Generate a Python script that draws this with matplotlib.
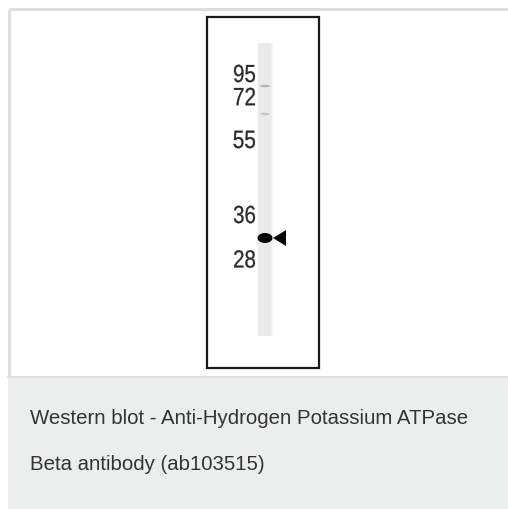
import numpy as np
import matplotlib.pyplot as plt
from matplotlib.patches import Rectangle, Ellipse, Polygon, PathPatch
from matplotlib.textpath import TextPath
from matplotlib.font_manager import FontProperties
from matplotlib.transforms import Affine2D

plt.rcParams['font.family'] = ['Liberation Sans', 'DejaVu Sans']

# molecular weight ladder (kDa) and where each sits on the blot (pixel rows)
marker_kda = ['95', '72', '55', '36', '28']
marker_y = [73.5, 96.5, 139.5, 214.5, 259]

# detected band
band_kda = 31
band_y = 238

# faint background bands in the lane
faint_y = [86, 114]
faint_alpha = [0.45, 0.3]

caption_lines = [
    'Western blot - Anti-Hydrogen Potassium ATPase',
    'Beta antibody (ab103515)',
]

W, H = 508, 509
fig = plt.figure(figsize=(W / 100, H / 100), dpi=100)
ax = fig.add_axes([0, 0, 1, 1])
ax.set_xlim(0, W)
ax.set_ylim(H, 0)
ax.axis('off')

# card outline + grey caption panel
ax.plot([9, W], [9, 9], color='#dedede', lw=2.2, solid_capstyle='butt')
ax.plot([9, 9], [9, 376], color='#dedede', lw=2.2, solid_capstyle='butt')
ax.add_patch(Rectangle((8, 376), W - 8, H - 376, facecolor='#eceeee', edgecolor='none'))
ax.plot([8, W], [376.5, 376.5], color='#dcdedf', lw=1.2)

# blot frame
ax.add_patch(Rectangle((207, 17), 112, 351, facecolor='white', edgecolor='#1a1a1a', lw=1.6))

# lane, slightly blurred at the edges
lane = np.ones((60, 12)) * 1.4
lane[:, 0] = 0.6
lane[:, -1] = 0.6
ax.imshow(lane, extent=(257, 273, 336, 43), cmap='Greys', vmin=0, vmax=9,
          interpolation='bilinear', aspect='auto', zorder=2)

for y, a in zip(faint_y, faint_alpha):
    ax.add_patch(Ellipse((265, y), 10, 2.5, facecolor='#777777', alpha=a,
                         edgecolor='none', zorder=3))

# band and arrow
ax.add_patch(Ellipse((265, band_y), 15, 10, facecolor='#050505', edgecolor='none', zorder=4))
ax.add_patch(Polygon([(273, band_y), (286, band_y - 8), (286, band_y + 8)],
                     closed=True, facecolor='#050505', edgecolor='none', zorder=4))

# ladder labels: condensed digits, drawn as paths so they can be squeezed
fp = FontProperties(family='Liberation Sans')
for lab, y in zip(marker_kda, marker_y):
    tp = TextPath((0, 0), lab, size=24, prop=fp)
    bb = tp.get_extents()
    sy = 17.5 / bb.height
    sx = sy * 0.83
    tr = (Affine2D().translate(-bb.x1, -(bb.y0 + bb.y1) / 2)
          .scale(sx, -sy).translate(255, y))
    ax.add_patch(PathPatch(tr.transform_path(tp), facecolor='#2a2a2a',
                           edgecolor='#2a2a2a', lw=0.2, zorder=5))

for i, line in enumerate(caption_lines):
    ax.text(30, 419 + i * 45, line, ha='left', va='center', fontsize=14.7, color='#333333')

fig.savefig('out.png', dpi=100)
